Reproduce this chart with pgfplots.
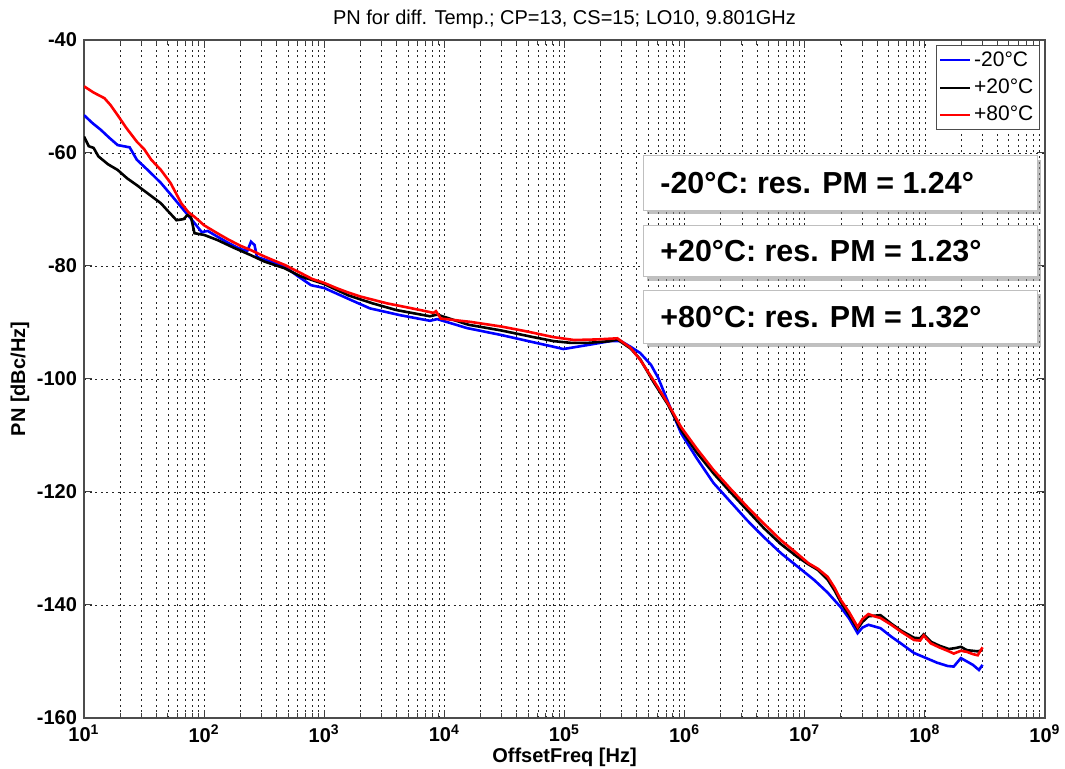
\documentclass[border=0pt]{standalone}
\usepackage{pgfplots}
\pgfplotsset{compat=1.18}
\usepackage{fontspec}
\setmainfont{Liberation Sans}
\usetikzlibrary{shadows}

\pgfplotstableread{
f v
10 -53.3
11.75 -54.7
13.80 -55.9
16.22 -57.3
19.05 -58.6
21.38 -58.8
23.99 -59.0
27.54 -61.2
34.67 -63.2
43.65 -65.3
54.95 -67.8
67.61 -70.1
83.18 -72.4
95.50 -74.0
107.2 -73.8
128.8 -74.8
158.5 -75.9
199.5 -77.0
229.1 -77.3
245.5 -75.7
263.0 -76.3
275.4 -78.4
354.8 -79.2
467.7 -80.1
602.6 -81.8
776.2 -83.4
1000 -83.9
1660 -86.0
2399 -87.5
4266 -88.7
7586 -89.7
8710 -89.4
15490 -91.0
29510 -92.2
52480 -93.4
81280 -94.3
97720 -94.7
154900 -94.0
239900 -93.3
295100 -93.3
354800 -94.3
426600 -95.4
524800 -97.5
602600 -99.8
741300 -104.5
933300 -109.6
1.259e6 -114.0
1.738e6 -118.4
2.399e6 -121.7
3.311e6 -125.0
4.571e6 -128.0
6.310e6 -130.8
8.710e6 -133.2
1.202e7 -135.6
1.549e7 -137.8
1.995e7 -140.4
2.344e7 -142.4
2.754e7 -145.0
3.020e7 -144.0
3.388e7 -143.5
4.266e7 -144.1
5.248e7 -145.6
6.310e7 -146.8
8.128e7 -148.5
1.000e8 -149.3
1.259e8 -150.2
1.549e8 -150.8
1.738e8 -150.9
1.995e8 -149.4
2.239e8 -150.0
2.512e8 -150.6
2.818e8 -151.5
3.020e8 -150.6
}\blue

\pgfplotstableread{
f v
10 -57.1
10.96 -58.8
12.02 -59.1
13.18 -60.6
15.85 -62.0
19.05 -63.0
22.91 -64.5
27.54 -65.7
34.67 -67.3
43.65 -68.9
50.12 -70.3
58.88 -71.9
67.61 -71.7
72.44 -71.0
77.62 -71.3
83.18 -74.2
100 -74.5
128.8 -75.4
177.8 -76.8
245.5 -78.1
316.2 -79.2
467.7 -80.4
631.0 -81.8
1000 -83.2
1585 -85.2
2512 -86.6
3981 -87.8
7586 -88.9
8710 -88.6
15850 -90.4
29510 -91.4
52480 -92.5
81280 -93.3
112200 -93.6
158500 -93.6
239900 -93.3
275400 -93.0
354800 -94.6
426600 -96.5
549500 -100.5
724400 -104.5
933300 -109.0
1.259e6 -113.0
1.738e6 -116.7
2.399e6 -120.0
3.311e6 -123.2
4.571e6 -126.4
6.310e6 -129.2
8.710e6 -131.5
1.072e7 -132.8
1.288e7 -133.8
1.549e7 -135.5
1.778e7 -137.5
1.995e7 -139.5
2.344e7 -141.8
2.754e7 -144.2
3.020e7 -143.0
3.388e7 -142.0
4.266e7 -141.8
5.248e7 -143.3
6.310e7 -144.5
8.128e7 -145.8
9.120e7 -145.9
9.772e7 -145.2
1.122e8 -146.5
1.318e8 -147.2
1.585e8 -147.8
1.820e8 -147.6
1.995e8 -147.4
2.239e8 -148.0
2.754e8 -148.2
3.020e8 -148.0
}\black

\pgfplotstableread{
f v
10 -48.2
12.02 -49.3
14.79 -50.3
16.60 -51.5
19.05 -53.3
22.39 -55.5
27.54 -58.0
31.62 -59.3
36.31 -61.2
43.65 -63.0
52.48 -65.3
64.57 -68.9
74.13 -70.5
83.18 -71.3
100 -72.8
128.8 -74.2
158.5 -75.3
199.5 -76.4
245.5 -77.2
316.2 -78.3
398.1 -79.2
467.7 -79.8
631.0 -81.2
794.3 -82.3
1000 -83.0
1259 -83.9
1585 -84.7
1995 -85.4
3311 -86.6
6310 -87.8
8128 -88.3
8511 -88.0
9333 -89.3
16600 -89.9
29510 -90.7
48980 -91.6
81280 -92.6
120200 -93.1
186200 -93.0
275400 -92.8
354800 -94.5
426600 -96.6
549500 -100.2
724400 -104.3
933300 -108.5
1.259e6 -112.3
1.738e6 -116.1
2.399e6 -119.4
3.311e6 -122.6
4.571e6 -125.6
6.310e6 -128.5
8.318e6 -130.6
1.072e7 -132.6
1.288e7 -133.6
1.549e7 -135.0
1.778e7 -137.0
1.995e7 -139.1
2.344e7 -141.3
2.754e7 -143.9
3.020e7 -142.5
3.388e7 -141.6
3.802e7 -142.0
4.266e7 -142.3
5.248e7 -143.5
6.310e7 -144.7
8.128e7 -146.2
9.120e7 -146.3
9.772e7 -145.4
1.122e8 -146.8
1.318e8 -147.5
1.585e8 -148.2
1.738e8 -148.6
1.995e8 -148.1
2.239e8 -148.3
2.512e8 -148.7
2.754e8 -148.9
3.020e8 -147.5
}\red

\begin{document}
\begin{tikzpicture}
\path[use as bounding box] (-42pt,-25.5pt) rectangle (490.5pt,359pt);
\begin{axis}[
  at={(0,0)}, anchor=south west,
  scale only axis, width=480.5pt, height=339pt,
  xmode=log, xmin=1e1, xmax=1e9, ymin=-160, ymax=-40,
  xtick={1e1,1e2,1e3,1e4,1e5,1e6,1e7,1e8,1e9},
  xticklabels={10\textsuperscript{1},10\textsuperscript{2},10\textsuperscript{3},10\textsuperscript{4},10\textsuperscript{5},10\textsuperscript{6},10\textsuperscript{7},10\textsuperscript{8},10\textsuperscript{9}},
  minor xtick={2e1,3e1,4e1,5e1,6e1,7e1,8e1,9e1,2e2,3e2,4e2,5e2,6e2,7e2,8e2,9e2,2e3,3e3,4e3,5e3,6e3,7e3,8e3,9e3,2e4,3e4,4e4,5e4,6e4,7e4,8e4,9e4,2e5,3e5,4e5,5e5,6e5,7e5,8e5,9e5,2e6,3e6,4e6,5e6,6e6,7e6,8e6,9e6,2e7,3e7,4e7,5e7,6e7,7e7,8e7,9e7,2e8,3e8,4e8,5e8,6e8,7e8,8e8,9e8},
  ytick={-160,-140,-120,-100,-80,-60,-40},
  yticklabels={-160,-140,-120,-100,-80,-60,-40},
  xmajorgrids, xminorgrids, ymajorgrids,
  grid style={dash pattern=on 1pt off 1.8pt, black!85, line width=0.35pt},
  minor grid style={dash pattern=on 1pt off 1.8pt, black!85, line width=0.35pt},
  tick align=inside, major tick length=4pt, minor tick length=2.5pt,
  tick style={black!75, line width=0.5pt},
  axis line style={black!70, line width=0.7pt},
  tick label style={font=\bfseries\fontsize{10}{12}\selectfont},
  title={PN for diff. Temp.; CP=13, CS=15; LO10, 9.801GHz},
  title style={font=\fontsize{10}{12}\selectfont, at={(0.5,1)}, anchor=south, yshift=-4pt},
  xlabel={OffsetFreq [Hz]},
  xlabel style={font=\bfseries\fontsize{10}{12}\selectfont, at={(axis description cs:0.5,0)}, anchor=center, yshift=-19.5pt},
  ylabel={PN [dBc/Hz]},
  ylabel style={font=\bfseries\fontsize{10}{12}\selectfont, at={(axis description cs:-0.0666,0.5)}, anchor=center},
  legend style={at={(rel axis cs:0.9948,0.9926)}, anchor=north east, draw=black!70, line width=0.6pt,
    font=\fontsize{10.5}{12}\selectfont, inner xsep=1.5pt, inner ysep=1.5pt, row sep=1.8pt,
    nodes={inner sep=1.5pt}},
  legend cell align=left,
  legend image code/.code={\draw[#1, line width=1pt] (0pt,0pt) -- (15pt,0pt);},
]
\addplot[blue, line width=1.3pt] table[x=f, y=v] {\blue};
\addlegendentry{-20°C}
\addplot[black, line width=1.3pt] table[x=f, y=v] {\black};
\addlegendentry{+20°C}
\addplot[red, line width=1.3pt] table[x=f, y=v] {\red};
\addlegendentry{+80°C}

\draw[draw=black!25, fill=white, line width=0.5pt, drop shadow={shadow xshift=2pt, shadow yshift=-2pt, fill=black!45, opacity=0.55}]
  (rel axis cs:0.582,0.829) rectangle (rel axis cs:0.992,0.749);
\draw[draw=black!25, fill=white, line width=0.5pt, drop shadow={shadow xshift=2pt, shadow yshift=-2pt, fill=black!45, opacity=0.55}]
  (rel axis cs:0.582,0.727) rectangle (rel axis cs:0.992,0.651);
\draw[draw=black!25, fill=white, line width=0.5pt, drop shadow={shadow xshift=2pt, shadow yshift=-2pt, fill=black!45, opacity=0.55}]
  (rel axis cs:0.582,0.631) rectangle (rel axis cs:0.992,0.553);
\node[anchor=west, font=\bfseries\fontsize{15.2}{18}\selectfont, inner sep=0pt] at (rel axis cs:0.5994,0.789) {-20°C: res. PM = 1.24°};
\node[anchor=west, font=\bfseries\fontsize{15.2}{18}\selectfont, inner sep=0pt] at (rel axis cs:0.5994,0.689) {+20°C: res. PM = 1.23°};
\node[anchor=west, font=\bfseries\fontsize{15.2}{18}\selectfont, inner sep=0pt] at (rel axis cs:0.5994,0.592) {+80°C: res. PM = 1.32°};
\end{axis}
\end{tikzpicture}
\end{document}
